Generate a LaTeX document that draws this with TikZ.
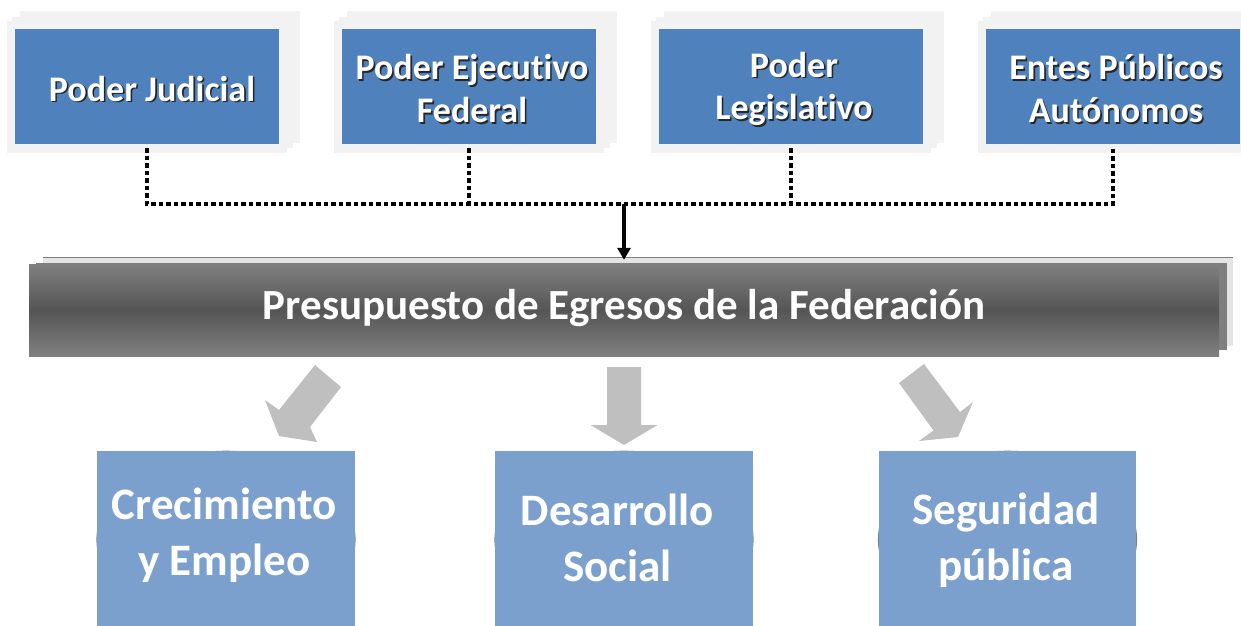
\documentclass[tikz,border=0pt]{standalone}
\usepackage{fontspec}
\setmainfont{Carlito}[Ligatures=NoCommon]
\usetikzlibrary{arrows.meta,backgrounds}
\definecolor{topblue}{HTML}{4F81BD}
\definecolor{botblue}{HTML}{7BA0CD}
\definecolor{layergray}{HTML}{F2F2F2}
\definecolor{arrowgray}{HTML}{BFBFBF}
\definecolor{midgray}{HTML}{7F7F7F}
\definecolor{lightbar}{HTML}{E4E4E4}
\definecolor{bartop}{HTML}{808080}
\definecolor{barmid}{HTML}{555555}
\newcommand{\shiftln}[2]{\raisebox{#1}[\height][\depth]{#2}}
\newcommand{\shtxt}[2][6pt]{\shiftln{-3pt}{\kern#1\rlap{\kern1.6pt\raisebox{-1.6pt}{\color{black!85}#2}}#2}}
\newcommand{\stackbg}[2]{%
  \fill[layergray] (#1+5,11) rectangle (#2+21,143);
  \fill[layergray] (#1-3,17) rectangle (#2+14,148);
  \fill[layergray] (#1-8,21) rectangle (#2+8,153);}
\begin{document}
\begin{tikzpicture}[x=1pt,y=-1pt,
  topbox/.style={fill=topblue, text=white, font=\fontsize{36}{42.5}\selectfont\bfseries,
    align=center, minimum height=115pt, inner sep=0pt},
  botbox/.style={fill=botblue, text=white, font=\fontsize{45}{56}\selectfont\bfseries,
    align=center, minimum height=175pt, inner sep=0pt},
  dotline/.style={line width=4.5pt, dash pattern=on 4.5pt off 3pt},
  blockarrow/.style={fill=arrowgray}]
\useasboundingbox (0,0) rectangle (1241,625);
\clip (0,0) rectangle (1241,625);

% top boxes
\node[topbox, minimum width=264pt] (T1) at (147,86.5) {\shtxt[10pt]{Poder Judicial}};
\node[topbox, minimum width=254pt] (T2) at (469,86.5) {\shtxt{Poder Ejecutivo}\\\shtxt{Federal}};
\node[topbox, minimum width=264pt] (T3) at (791,86.5) {\shtxt{Poder}\\\shtxt{Legislativo}};
\node[topbox, minimum width=254pt] (T4) at (1113,86.5) {\shtxt{Entes Públicos}\\\shtxt{Autónomos}};

% central bar
\node[top color=bartop, bottom color=bartop, middle color=barmid, text=white,
  font=\fontsize{43}{50}\selectfont\bfseries, minimum width=1190pt, minimum height=92pt,
  inner sep=0pt] (bar) at (624,310) {\shiftln{2pt}{Presupuesto de Egresos de la Federación}};

% bottom boxes
\node[botbox, minimum width=258pt] (B1) at (226,538.5) {\shiftln{3pt}{Crecimiento\kern3pt}\\\shiftln{3pt}{y Empleo\kern3pt}};
\node[botbox, minimum width=258pt] (B2) at (624,538.5) {\shiftln{1pt}{Desarrollo\kern13pt}\\\shiftln{1pt}{Social\kern13pt}};
\node[botbox, minimum width=257pt] (B3) at (1007.5,538.5) {\shiftln{-2pt}{Seguridad\kern3pt}\\\shiftln{-2pt}{pública\kern3pt}};

\begin{scope}[on background layer]
  \stackbg{15}{279}
  \stackbg{342}{596}
  \stackbg{659}{923}
  \stackbg{986}{1240}
  \fill[lightbar] (43,257) rectangle (1233,346);
  \draw[midgray, line width=0.8pt] (43,257.4) -- (1233,257.4);
  \fill[midgray] (36,263) rectangle (1227,350);
  \foreach \b in {B1,B2,B3}{\fill[midgray] ([yshift=-1pt]\b.center) ellipse (129.6 and 88.8);}
\end{scope}

% dotted connectors
\coordinate (bus) at (624,204);
\draw[dotline] ([yshift=-4pt]T1.south) -- (T1.south |- bus) -- (T4.south |- bus) -- ([yshift=-4pt]T4.south);
\draw[dotline] ([yshift=-4pt]T2.south) -- (T2.south |- bus);
\draw[dotline] ([yshift=-4pt]T3.south) -- (T3.south |- bus);
\draw[line width=4pt, -{Triangle[width=13pt,length=12pt]}] (bus) -- ([yshift=4pt]bar.north);

% block arrows
\fill[blockarrow] (315,365) -- (341,387) -- (310,427) -- (317,442) -- (279,436) -- (265,400) -- (279,410) -- cycle;
\fill[blockarrow] (607,367) -- (641,367) -- (641,425) -- (657.5,425) -- (624,445) -- (590.5,425) -- (607,425) -- cycle;
\fill[blockarrow] (924,364) -- (899,383) -- (933.5,430.5) -- (919,441) -- (958,437) -- (973,402) -- (960,412) -- cycle;
\end{tikzpicture}
\end{document}
